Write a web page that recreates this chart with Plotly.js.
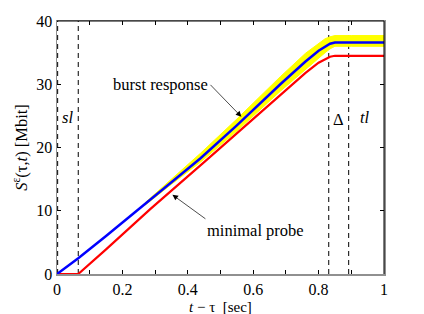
<!DOCTYPE html>
<html><head><meta charset="utf-8">
<script src="https://cdn.plot.ly/plotly-3.0.1.min.js"></script>
<style>html,body{margin:0;padding:0;background:#fff}#c{width:424px;height:314px}</style>
</head><body><div id="c"></div>
<script>
// ---- data ----
const blueX = [0, 0.065, 0.15, 0.286, 0.35, 0.439, 0.55, 0.683, 0.76, 0.80, 0.82, 0.835, 0.85, 0.9, 1.0];
const blueY = [0, 2.5, 6.0, 11.7, 14.5, 18.3, 23.5, 30.0, 33.6, 35.3, 36.0, 36.4, 36.6, 36.6, 36.6];
const redX = [0, 0.065, 0.15, 0.286, 0.45, 0.683, 0.76, 0.80, 0.82, 0.835, 0.85, 0.9, 1.0];
const redY = [0, 0, 3.9, 10.3, 17.7, 28.3, 31.8, 33.4, 34.0, 34.35, 34.5, 34.5, 34.5];
const bandX = [0.27, 0.35, 0.439, 0.55, 0.683, 0.76, 0.80, 0.82, 0.835, 0.85, 0.9, 1.0];
const bandUpper = [11.3, 15.0, 19.1, 24.5, 31.2, 34.9, 36.5, 37.2, 37.5, 37.7, 37.7, 37.7];
const bandLower = [10.9, 14.2, 17.7, 22.6, 28.9, 32.4, 34.1, 35.0, 35.6, 36.0, 36.0, 36.0];
const eventTimes = [0.002, 0.065, 0.831, 0.892];
const xTickVals = [0, 0.2, 0.4, 0.6, 0.8, 1.0];
const xTickText = ['0', '0.2', '0.4', '0.6', '0.8', '1'];
const yTickVals = [0, 10, 20, 30, 40];
const yTickText = ['0', '10', '20', '30', '40'];

const F = 'Liberation Serif, Times New Roman, serif';
const FS = 16.5;
const traces = [];
eventTimes.forEach(t => traces.push({x:[t,t], y:[0,40], mode:'lines', line:{color:'#000', width:1, dash:'5px,4px'}, hoverinfo:'skip', showlegend:false}));
traces.push({x:bandX, y:bandLower, mode:'lines', line:{color:'#ffff00', width:1}, showlegend:false});
traces.push({x:bandX, y:bandUpper, mode:'lines', line:{color:'#ffff00', width:1}, fill:'tonexty', fillcolor:'#ffff00', showlegend:false});
traces.push({x:redX, y:redY, mode:'lines', line:{color:'#ff0000', width:2.2}, showlegend:false});
traces.push({x:blueX, y:blueY, mode:'lines', line:{color:'#0000ff', width:2.5}, showlegend:false});

const axisCommon = {showgrid:false, zeroline:false, showline:true, linecolor:'#909090', linewidth:1.5,
  mirror:'ticks', ticks:'inside', ticklen:4, tickcolor:'#000', tickwidth:1,
  tickfont:{family:F, size:16, color:'#000'}, fixedrange:true};

const layout = {
  width:424, height:314, margin:{l:57, r:40, t:21, b:40},
  paper_bgcolor:'#fff', plot_bgcolor:'#fff', showlegend:false,
  xaxis: Object.assign({}, axisCommon, {range:[0,1], tickmode:'array', tickvals:xTickVals, ticktext:xTickText,
    minor:{dtick:0.1, ticks:'inside', ticklen:4, tickcolor:'#000', tickwidth:1, showgrid:false}}),
  yaxis: Object.assign({}, axisCommon, {range:[0,40], tickmode:'array', tickvals:yTickVals, ticktext:yTickText,
    title:{text:'<i>S</i><sup>ε</sup>(τ,<i>t</i>) [Mbit]', font:{family:F, size:FS, color:'#000'}, standoff:4}}),
  shapes:[
    {type:'line', xref:'paper', yref:'paper', x0:0, x1:1, y0:1, y1:1, line:{color:'#000', width:1}, layer:'above'},
    {type:'line', xref:'paper', yref:'paper', x0:1, x1:1, y0:0, y1:1, line:{color:'#000', width:1}, layer:'above'}
  ],
  annotations:[
    {xref:'paper', yref:'paper', x:0.5, y:-0.132, yanchor:'middle', text:'<i>t</i> − τ  [sec]', showarrow:false,
      font:{family:F, size:15, color:'#000'}},
    {x:0.564, y:24.85, text:'burst response', showarrow:true, ax:-31, ay:-32, xanchor:'right', yanchor:'middle',
      arrowhead:2, arrowsize:1.6, arrowwidth:0.7, arrowcolor:'#000', standoff:0, font:{family:F, size:FS, color:'#000'}},
    {x:0.353, y:12.52, text:'minimal probe', showarrow:true, ax:33, ay:24, xanchor:'left', yanchor:'top',
      arrowhead:2, arrowsize:1.6, arrowwidth:0.7, arrowcolor:'#000', standoff:0, font:{family:F, size:FS, color:'#000'}},
    {x:0.032, y:24.7, text:'<i>sl</i>', showarrow:false, font:{family:F, size:FS, color:'#000'}},
    {x:0.861, y:24.5, text:'Δ', showarrow:false, font:{family:F, size:FS, color:'#000'}},
    {x:0.941, y:24.7, text:'<i>tl</i>', showarrow:false, font:{family:F, size:FS, color:'#000'}}
  ]
};
Plotly.newPlot('c', traces, layout, {displayModeBar:false, staticPlot:true});
</script></body></html>
